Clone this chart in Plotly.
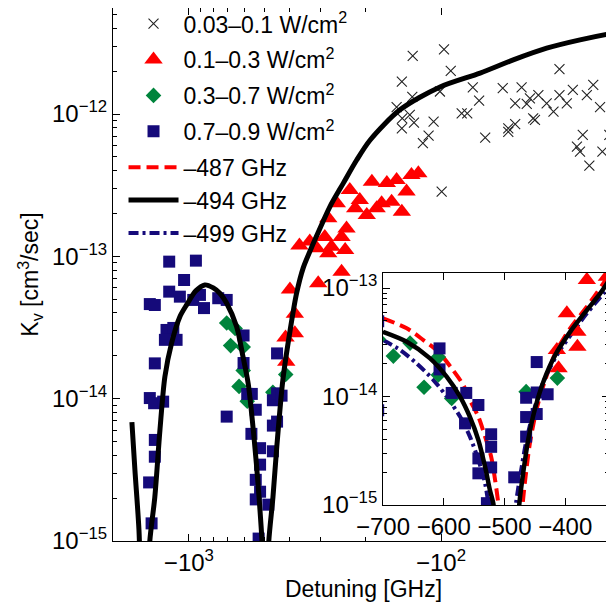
import math
import plotly.graph_objects as go

# ---------------- data (detuning in GHz, K_v in cm^3/sec) ----------------
# 0.03-0.1 W/cm^2 (crosses)
det_cross = [-129.5, -97.3, -91.5, -143, -130, -150, -142.5, -133, -128, -143,
             -107, -112, -118, -101, -74.8, -70.6, -82.8, -78.7, -66.8, -56.9,
             -47.9, -50.8, -45.7, -44.4, -41.1, -43.1, -50.8, -54.1, -54.1, -42.4,
             -38.1, -35.8, -33.9, -33.9, -31.7, -30.0, -26.4, -24.9, -23.4, -27.4,
             -28.9, -28.1, -25.8, -22.9, -21.5, -20.7, -99.4]
k_cross = [2.56e-12, 2.85e-12, 2.01e-12, 1.69e-12, 1.32e-12, 1.12e-12, 9.33e-13, 9.86e-13, 8.71e-13, 7.94e-13,
           8.85e-13, 7.05e-13, 6.24e-13, 1.44e-12, 1.54e-12, 1.24e-12, 1.01e-12, 1.01e-12, 6.82e-13, 1.52e-12,
           1.54e-12, 1.19e-12, 1.18e-12, 1.29e-12, 1.36e-12, 9.33e-13, 8.48e-13, 7.94e-13, 7.5e-13, 9.1e-13,
           1.19e-12, 1.04e-12, 2.07e-12, 1.36e-12, 1.19e-12, 1.48e-12, 1.36e-12, 1.60e-12, 1.12e-12, 7.13e-13,
           5.9e-13, 5.44e-13, 4.34e-13, 5.44e-13, 7.13e-13, 4.75e-13, 2.85e-13]

# 0.1-0.3 W/cm^2 (triangles)
det_tri = [-364.4, -331.5, -397.4, -380, -380, -413.8, -411,
           -307, -311, -280, -289, -248, -240, -237, -248, -280, -259, -230, -210,
           -219, -197, -180, -172, -157, -143, -188, -164, -150, -137, -131, -123, -272]
k_tri = [1.19e-13, 1.27e-13, 5.85e-14, 2.88e-14, 3.95e-14, 2.69e-14, 1.82e-14,
         6.47e-14, 1.14e-13, 1.05e-13, 1.37e-13, 1.37e-13, 1.11e-13, 1.57e-13, 7.81e-14, 1.85e-13, 2.36e-13, 2.93e-13, 2.49e-13,
         2.18e-13, 1.95e-13, 2.18e-13, 2.36e-13, 2.42e-13, 2.06e-13, 3.35e-13, 3.27e-13, 3.44e-13, 2.85e-13, 3.73e-13, 3.84e-13, 1.17e-13]

# 0.3-0.7 W/cm^2 (diamonds)
det_dia = [-683, -655.5, -609, -632.5, -609, -587, -464.4, -413, -708]
k_dia = [2.36e-14, 3.11e-14, 2.31e-14, 1.22e-14, 1.58e-14, 9.6e-15, 1.11e-14, 1.48e-14, 3.4e-14]

# 0.7-0.9 W/cm^2 (squares)
det_sq = [-1197, -938, -1045, -1197, -1086, -1429, -1365, -961, -904, -871,
          -765, -708, -1227, -1153, -1119, -1245, -1365, -1429, -1374, -1265,
          -708, -1365, -1365, -1438, -1406,
          -607, -607, -587, -563, -543, -565, -522, -522, -543, -522,
          -543, -529, -484, -447, -464.4, -447, -429, -464.4, -447, -464.4]
k_sq = [9.18e-14, 9.33e-14, 6.82e-14, 5.65e-14, 5.21e-14, 4.62e-14, 4.55e-14, 4.94e-14, 5.36e-14, 4.33e-14,
        5.08e-14, 4.94e-14, 3.04e-14, 3.14e-14, 2.59e-14, 2.59e-14, 1.77e-14, 1.01e-14, 9.29e-15, 9.53e-15,
        7.48e-15, 5.13e-15, 3.91e-15, 2.58e-15, 1.33e-15,
        2.78e-14, 1.78e-14, 1.08e-14, 1.08e-14, 8.36e-15, 5.66e-15, 4.49e-15, 3.44e-15, 2.69e-15, 2.22e-15,
        1.96e-15, 1.04e-15, 1.8e-15, 2.08e-14, 9.75e-15, 1.09e-14, 1.05e-14, 6.47e-15, 6.9e-15, 4.27e-15]

# model curve, node at -494 GHz (main panel); None separates branches
det_m494 = [-1683, -1637, -1578, -1560, None,
            -1450, -1429, -1365, -1303, -1245, -1172, -1086, -1018, -940, -865, -800, -754, -708,
            -647, -610, -582, -560, -540, -527, -513, -506, None,
            -488, -482, -464, -448, -424, -397, -374, -352, -330, -311, -276, -244, -216, -191,
            -145.5, -100.9, -70, -51.7, -38.1, -28.1, -20.7, -20]
k_m494 = [6.85e-15, 3.15e-15, 1.2e-15, 6e-16, None,
          5e-16, 1.0e-15, 2.04e-15, 6.0e-15, 1.43e-14, 2.45e-14, 3.77e-14, 4.6e-14, 5.7e-14, 6.3e-14, 6.0e-14, 5.5e-14, 4.68e-14,
          3.21e-14, 1.97e-14, 1.28e-14, 7.0e-15, 3.5e-15, 2.04e-15, 1.0e-15, 5e-16, None,
          5e-16, 1.0e-15, 2.04e-15, 4.6e-15, 1.35e-14, 3.0e-14, 5.5e-14, 8.3e-14, 1.1e-13, 1.4e-13, 2.23e-13, 3.27e-13, 4.75e-13, 6.57e-13,
          1.07e-12, 1.55e-12, 1.94e-12, 2.40e-12, 2.90e-12, 3.32e-12, 3.70e-12, 3.73e-12]

# inset model curves
det_i487 = [-700, -661, -633.6, -609, -587, -568, -557, -543, -532, -522, -515.5, -510, -506, None,
            -474, -470, -464.4, -457.8, -446.8, -433, -416.6, -392, -364.4, -327.7]
k_i487 = [5.26e-14, 4.26e-14, 3.32e-14, 2.59e-14, 1.82e-14, 1.28e-14, 9.3e-15, 6.5e-15, 4.27e-15, 2.79e-15, 1.7e-15, 1.0e-15, 5e-16, None,
          5e-16, 1.04e-15, 2.03e-15, 3.83e-15, 7.8e-15, 1.42e-14, 2.5e-14, 4.26e-14, 6.73e-14, 1.32e-13]

det_i494 = [-700, -661, -622.6, -595, -573, -557, -543, -532, -524, -518, -514, None,
            -479, -475.5, -469, -460.6, -449.6, -436, -416.6, -392, -364.4, -342.5, -327.7]
k_i494 = [3.95e-14, 3.2e-14, 2.25e-14, 1.52e-14, 9.95e-15, 6.5e-15, 3.97e-15, 2.25e-15, 1.37e-15, 1.0e-15, 5e-16, None,
          5e-16, 1.04e-15, 2.03e-15, 4.12e-15, 7.8e-15, 1.37e-14, 2.41e-14, 3.95e-14, 6.26e-14, 8.93e-14, 1.19e-13]

det_i499 = [-700, -672, -644.5, -617, -595, -573, -557, -543, -532, -526.5, -522, None,
            -485, -481, -473, -464.4, -452.4, -436, -413.8, -389, -364.4, -337, -327.7]
k_i499 = [3.32e-14, 2.69e-14, 2.02e-14, 1.42e-14, 9.95e-15, 6.5e-15, 4.27e-15, 2.6e-15, 1.58e-15, 1.0e-15, 5e-16, None,
          5e-16, 1.04e-15, 2.03e-15, 3.83e-15, 7.24e-15, 1.37e-14, 2.41e-14, 3.82e-14, 5.85e-14, 8.93e-14, 1.03e-13]

# tick labels
main_x_ticks = [1000, 100]
main_x_text = ["\u221210<sup>3</sup>", "\u221210<sup>2</sup>"]
main_y_ticks = [1e-15, 1e-14, 1e-13, 1e-12]
main_y_text = ["10<sup>\u221215</sup>", "10<sup>\u221214</sup>", "10<sup>\u221213</sup>", "10<sup>\u221212</sup>"]
inset_x_ticks = [-700, -600, -500, -400]
inset_x_text = ["\u2212700", "\u2212600", "\u2212500", "\u2212400"]
inset_y_ticks = [1e-15, 1e-14, 1e-13]
inset_y_text = ["10<sup>\u221215</sup>", "10<sup>\u221214</sup>", "10<sup>\u221213</sup>"]

# ---------------- styling ----------------
FONT = "Liberation Sans, Arial, Helvetica, sans-serif"
C_RED = "#FF0000"
C_GREEN = "#00843C"
C_NAVY = "#150A7A"
C_CROSS = "#222222"


def neg(v):
    return [None if d is None else -d for d in v]


cross_m = dict(symbol="x-thin", size=10, line=dict(color=C_CROSS, width=1.1), color=C_CROSS)
tri_m = dict(symbol="triangle-up", size=16, color=C_RED, line=dict(width=0))
dia_m = dict(symbol="diamond", size=12, color=C_GREEN, line=dict(width=0))
sq_m = dict(symbol="square", size=12, color=C_NAVY, line=dict(width=0))

fig = go.Figure()

# legend-carrying traces, in legend order
fig.add_trace(go.Scatter(x=neg(det_cross), y=k_cross, mode="markers", marker=cross_m, legendgroup="g1",
                         name="0.03\u20130.1 W/cm<sup>2</sup>", xaxis="x", yaxis="y"))
fig.add_trace(go.Scatter(x=neg(det_tri), y=k_tri, mode="markers", marker=tri_m, legendgroup="g2",
                         name="0.1\u20130.3 W/cm<sup>2</sup>", xaxis="x", yaxis="y"))
fig.add_trace(go.Scatter(x=neg(det_dia), y=k_dia, mode="markers", marker=dia_m, legendgroup="g3",
                         name="0.3\u20130.7 W/cm<sup>2</sup>", xaxis="x", yaxis="y"))
fig.add_trace(go.Scatter(x=neg(det_sq), y=k_sq, mode="markers", marker=sq_m, legendgroup="g4",
                         name="0.7\u20130.9 W/cm<sup>2</sup>", xaxis="x", yaxis="y"))
fig.add_trace(go.Scatter(x=det_i487, y=k_i487, mode="lines", legendgroup="g5",
                         line=dict(color=C_RED, width=4, dash="12px,6px", shape="spline", smoothing=0.8),
                         name="\u2013487 GHz", xaxis="x2", yaxis="y2", connectgaps=False))
fig.add_trace(go.Scatter(x=neg(det_m494), y=k_m494, mode="lines", legendgroup="g5",
                         line=dict(color="black", width=5, shape="spline", smoothing=0.8),
                         name="\u2013494 GHz", xaxis="x", yaxis="y", connectgaps=False))
fig.add_trace(go.Scatter(x=det_i499, y=k_i499, mode="lines", legendgroup="g5",
                         line=dict(color=C_NAVY, width=4, dash="10px,4px,3px,4px", shape="spline", smoothing=0.8),
                         name="\u2013499 GHz", xaxis="x2", yaxis="y2", connectgaps=False))

# inset data (no legend)
fig.add_trace(go.Scatter(x=det_cross, y=k_cross, mode="markers", marker=cross_m, showlegend=False, xaxis="x2", yaxis="y2"))
fig.add_trace(go.Scatter(x=det_tri, y=k_tri, mode="markers", marker=tri_m, showlegend=False, xaxis="x2", yaxis="y2"))
fig.add_trace(go.Scatter(x=det_dia, y=k_dia, mode="markers", marker=dia_m, showlegend=False, xaxis="x2", yaxis="y2"))
fig.add_trace(go.Scatter(x=det_sq, y=k_sq, mode="markers", marker=sq_m, showlegend=False, xaxis="x2", yaxis="y2"))
fig.add_trace(go.Scatter(x=det_i494, y=k_i494, mode="lines",
                         line=dict(color="black", width=4.5, shape="spline", smoothing=0.8),
                         showlegend=False, xaxis="x2", yaxis="y2", connectgaps=False))

minor_log = [m * 10.0 ** e for e in range(-16, -10) for m in range(2, 10)]

axis_common = dict(showgrid=False, zeroline=False, showline=True, linecolor="black", linewidth=1,
                   ticks="inside", tickcolor="black", ticklen=7, mirror="ticks",
                   tickfont=dict(family=FONT, size=24, color="black"))

fig.update_layout(
    width=606, height=601,
    margin=dict(l=105, r=0, t=0, b=68, autoexpand=False),
    paper_bgcolor="white", plot_bgcolor="white",
    font=dict(family=FONT, size=23, color="black"),
    xaxis=dict(type="log", range=[math.log10(2000), math.log10(20.6)], domain=[0, 1], anchor="y",
               tickmode="array", tickvals=main_x_ticks, ticktext=main_x_text,
               minor=dict(tickvals=[200, 300, 400, 500, 600, 700, 800, 900], ticks="inside", ticklen=4, tickcolor="black"),
               title=dict(text="Detuning [GHz]", font=dict(family=FONT, size=23), standoff=4),
               **axis_common),
    yaxis=dict(type="log", range=[-15, -11.255], domain=[0, 1], anchor="x",
               tickmode="array", tickvals=main_y_ticks, ticktext=main_y_text,
               minor=dict(tickvals=minor_log, ticks="inside", ticklen=4, tickcolor="black"),
               title=dict(text="K<sub>v</sub> [cm<sup>3</sup>/sec]", font=dict(family=FONT, size=23), standoff=6),
               **axis_common),
    xaxis2=dict(range=[-700, -328], domain=[0.539, 0.990], anchor="y2",
                tickmode="array", tickvals=inset_x_ticks, ticktext=inset_x_text,
                **axis_common),
    yaxis2=dict(type="log", range=[-15, -12.86], domain=[0.0675, 0.503], anchor="x2",
                tickmode="array", tickvals=inset_y_ticks, ticktext=inset_y_text,
                minor=dict(tickvals=minor_log, ticks="inside", ticklen=4, tickcolor="black"),
                **axis_common),
    legend=dict(x=0.021, y=1.011, xanchor="left", yanchor="top",
                bgcolor="rgba(0,0,0,0)",
                font=dict(family=FONT, size=23), itemwidth=50, tracegroupgap=3,
                traceorder="grouped"),
    showlegend=True,
)

fig.write_html("out.html")
